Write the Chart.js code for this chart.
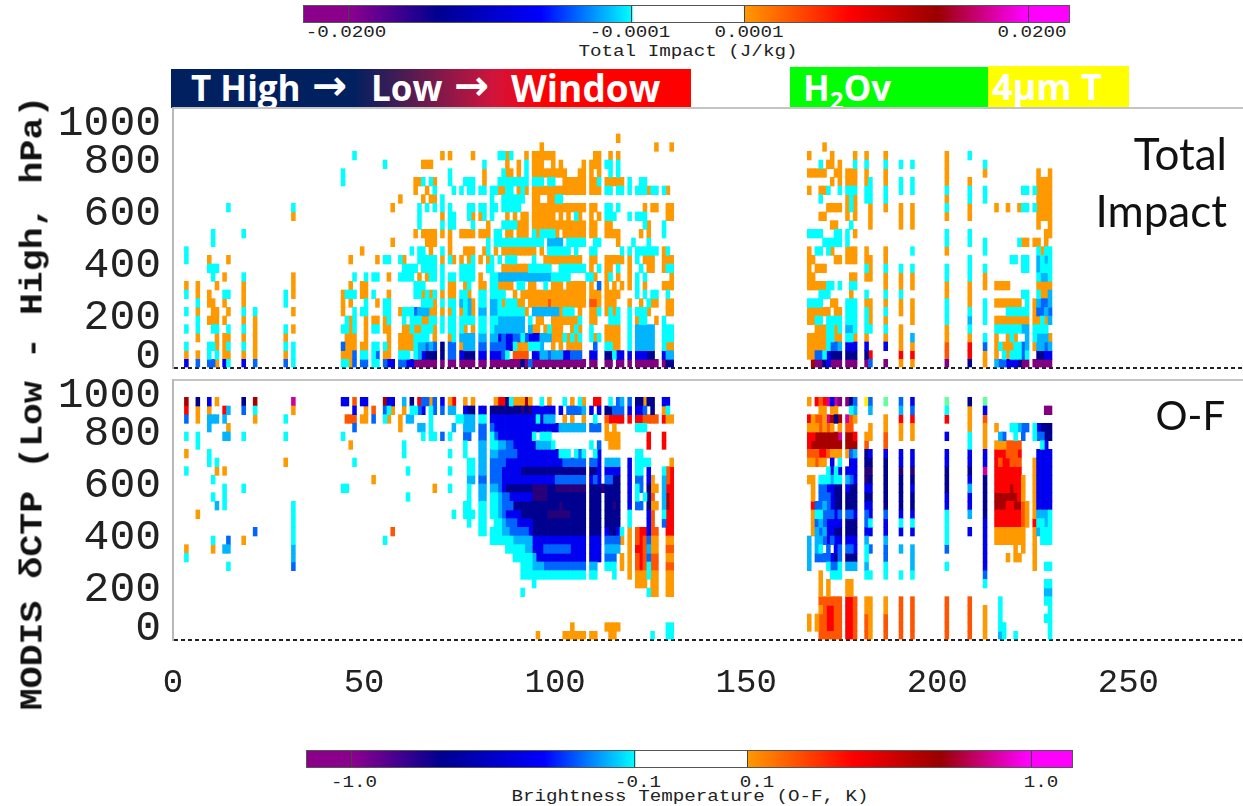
<!DOCTYPE html>
<html>
<head>
<meta charset="utf-8">
<title>Total Impact and O-F</title>
<script src="https://cdn.jsdelivr.net/npm/chart.js@4/dist/chart.umd.min.js"></script>
<style>
  html, body { margin: 0; background: #fff; width: 1243px; height: 806px; overflow: hidden; }
  .abs { position: absolute; white-space: nowrap; }
  canvas { position: absolute; left: 0; filter: blur(0.55px); }
  .bar { position: absolute; height: 16px; border: 1px solid #555; box-sizing: content-box;
    background: linear-gradient(90deg, #8b008b 0, #8b008b 5.7%, #8f008f 5.8%, #000090 17.5%, #0000ff 31%, #00ffff 42.9%, #fff 43%, #fff 57.5%, #ff9900 57.6%, #ff0000 71.3%, #990000 82.8%, #ff00ff 94.3%, #ff00ff 100%); }
  .tick { position: absolute; top: 0; width: 1px; height: 100%; background: #444; }
  .mono { font-family: "Liberation Mono", monospace; font-size: 16px; color: #222; transform: translateX(-50%) scaleX(1.2); }
  .banner { position: absolute; color: #fff; font-family: "Open Sans", sans-serif; font-weight: 700; font-size: 35px; line-height: 40px; white-space: nowrap; }
  .side { font-family: Lato, sans-serif; font-size: 44px; color: #111; text-align: right; }
  #ytitle { font-family: "Liberation Mono", monospace; font-weight: 700; font-size: 31px; color: #111;
    left: 33px; top: 403px; transform: translate(-50%, -50%) rotate(-90deg) scaleX(1.18); }
</style>
</head>
<body>
<div class="bar" style="left:303px;top:5px;width:765px">
  <div class="tick" style="left:44px"></div><div class="tick" style="left:327px"></div><div class="tick" style="left:440px"></div><div class="tick" style="left:724px"></div>
</div>
<div id="topLabels"></div>

<div class="abs" style="left:171px;top:69px;width:520px;height:39px;background:linear-gradient(90deg,#002060 0,#002060 35%,#d0143c 62%,#ff0000 72%,#ff0000 100%)"></div>
<div class="abs" style="left:790px;top:67px;width:198px;height:41px;background:#00ff00"></div>
<div class="abs" style="left:988px;top:66px;width:141px;height:41px;background:#ffff00"></div>
<div class="banner" style="left:191px;top:68px">T High</div>
<div class="banner" style="left:312px;top:66px;font-size:42px;font-family:'DejaVu Sans'">&#8594;</div>
<div class="banner" style="left:371px;top:68px">Low</div>
<div class="banner" style="left:454px;top:66px;font-size:42px;font-family:'DejaVu Sans'">&#8594;</div>
<div class="banner" style="left:511px;top:68px;font-size:37px">Window</div>
<div class="banner" style="left:803px;top:68px">H<sub style="font-size:24px;line-height:0">2</sub>Ov</div>
<div class="banner" style="left:992px;top:67px;font-size:36px">4&micro;m T</div>

<canvas id="impactChart" style="top:100px" width="1243" height="272"></canvas>
<canvas id="ofChart" style="top:372px" width="1243" height="328"></canvas>

<div class="abs side" style="right:16px;top:127px">Total</div>
<div class="abs side" style="right:16px;top:184px">Impact</div>
<div class="abs side" style="right:18px;top:391px;font-size:40px">O-F</div>
<div class="abs" id="ytitle">MODIS &delta;CTP (Low - High, hPa)</div>

<div class="bar" style="left:306px;top:750px;width:765px">
  <div class="tick" style="left:44px"></div><div class="tick" style="left:327px"></div><div class="tick" style="left:440px"></div><div class="tick" style="left:724px"></div>
</div>
<div id="bottomLabels"></div>

<script>
const xTicks = [0, 50, 100, 150, 200, 250];
const yTicks = [0, 200, 400, 600, 800, 1000];
const impactBarLabels = [["-0.0200", 346], ["-0.0001", 630], ["0.0001", 749], ["0.0200", 1032]];
const ofBarLabels = [["-1.0", 354], ["-0.1", 638], ["0.1", 757], ["1.0", 1041]];

const palette = {
  c: "#00ffff", s: "#00b4ff", l: "#0064ff", b: "#0000f0", n: "#000090", v: "#28007a", p: "#800080",
  o: "#ff9900", r: "#ff5500", R: "#ff0000", d: "#a80000", m: "#d0009a", y: "#ffee00", g: "#66ffa0"
};

// "channel row:codes" -> codes go upward from that row
const impactLeft = [
  "3 0:boc 4:c 6:c 8:co 12:cc",
  "6 0:lo 3:occocoo",
  "9 0:lcc 5:o 7:oo 11:co",
  "10 0:l 2:c 4:cooo 10:cc 14:cc",
  "11 0:ocoocoo 9:o 11:c",
  "13 0:booo 5:o 7:oc 10:o",
  "14 0:cococ 6:o 8:c 12:o 18:c",
  "18 0:bocococoooc 15:c",
  "21 0:loooooc",
  "29 0:lococ 7:cc",
  "31 0:ccc 4:o 6:o 8:ooo 17:oc",
  "44 0:col 4:c 6:ooo 21:cc",
  "45 0:cooo 4:cc 8:c",
  "46 0:oooooo 7:oco 12:o",
  "47 0:llooccc 8:c 10:c 24:c",
  "49 0:lco 6:c 8:oo 13:o",
  "50 0:lcooooccooc",
  "52 0:ccc 4:co 8:c 10:c",
  "53 0:clc 4:co 7:o 10:c 12:o",
  "55 0:loc 4:oocc 12:c 23:c",
  "56 0:booooccco 10:o 12:c",
  "57 0:b 14:o 18:o",
  "59 0:lcoo 6:o 10:c 12:c 19:o",
  "60 0:lcooocc 10:cco",
  "61 0:bcooo 6:c 10:cc",
  "62 0:b 2:ooccc 10:cc 13:c",
  "63 0:pcccocl 8:cc 11:c 15:o 20:oo",
  "64 0:psscocs 8:cco 12:cc 16:ccc 21:o",
  "65 0:pbsccoscoc 11:ccc 15:o 19:o 21:c 23:o",
  "66 0:pnlccoscc 10:occ 14:oo 18:c 20:o 23:o",
  "67 0:pns 4:ccoco 10:cccooo 19:o 21:c 23:o",
  "68 0:pnloocooc 10:ccc 14:oo 18:coco",
  "70 0:pnn 4:ccococccoc 15:ococc 24:o",
  "72 0:plloccocooc 12:coooccc 21:cc 24:o",
  "73 0:pllcccccooc 12:o 16:cc 20:c"
];

// dense block, one line per row from the bottom, "offset from channel 75:codes"
const impactMid = [
  "0:pppp 5:pp 8:pppppppp 16:npl 19:pppppppppppppp 34:pp 38:pp 41:pp 44:p 46:pppppp 53:pn 55:n",
  "0:bnnn 5:bb 8:bbbl 12:c 14:rrrr 19:bb 21:ss 23:l 24:sss 27:bb 29:lll 34:bb 38:nn 40:c 41:bb 44:b 46:bbb 49:nn 53:b 54:ss",
  "0:osss 5:ll 8:llll 12:bb 14:c 15:ooo 18:cccs 24:o 26:o 28:oooo 35:l 38:cc 40:oo 44:c 46:sssss 53:c 54:oo",
  "0:ssss 5:ss 8:ss 10:bl 12:bb 14:ll 16:c 17:l 18:bbb 21:sss 24:ooo 27:c 28:o 29:c 30:o 31:c 34:c 35:o 36:c 38:oooo 44:c 46:sssss 53:c 54:cc",
  "0:co 3:o 5:cc 8:c 9:ssssssss 18:s 19:oo 22:o 23:c 24:ooo 29:o 30:c 31:o 34:c 38:oooo 44:c 46:sssss 53:c 54:cc",
  "0:cccc 5:cc 8:cc 10:sssssss 18:c 20:oo 24:ooooooo 31:c 34:oo 39:ccc 44:c 46:o 47:cc 51:o 53:c",
  "0:ocso 5:ss 8:ss 10:ccccccc 17:o 19:sssssss 26:o 27:ccc 31:o 34:oo 36:c 38:o 39:c 40:o 41:c 44:c 46:ccc 49:o 54:oo",
  "0:scso 5:cc 8:ss 10:co 12:ccc 15:oo 18:ooooo 23:r 24:ooooooooo 34:rr 36:o 38:ooo 44:o 47:o 49:c 50:oo 54:oo",
  "0:cco 5:cc 8:cccc 14:o 16:ooooooooooooooooo 34:ooo 38:oooo 46:c 48:c 50:cc 54:c",
  "1:o 2:c 5:oo 8:cc 10:oooo 15:cc 18:oo 22:c 24:ooo 28:ooooo 34:o 36:l 38:o 40:o 42:o 44:o 46:c 48:o 53:ooo",
  "0:cccc 5:o 8:cc 10:ssssssssssssss 24:ccccc 33:c 34:c 35:o 38:o 39:c 41:o 44:o 46:c 48:c 55:o",
  "0:cccc 7:cc 11:ooooooo 18:cccccc 26:ccccccc 34:o 36:c 38:oo 41:c 44:o 47:c 49:oo 53:o 54:cc",
  "0:o 2:oc 5:o 7:oc 10:c 12:ccc 19:c 22:oooooooooo 34:oo 38:ooooo 44:o 46:c 48:ooo 53:ooo",
  "1:ooo 6:oc 9:o 11:ooooooooo 21:o 23:cccccc 30:c 34:cc 42:c 44:c 46:cccccc 53:oc",
  "7:c 9:ccccccccccccc 23:ssss 28:ccccc 35:cc 41:o 45:c 49:c",
  "0:oooo 5:ooo 9:cc 12:oo 15:ooo 19:co 21:cccc 25:o 27:oooooo 34:oo 38:oooo 47:o 49:o 53:c",
  "3:c 7:o 11:cccc 15:ooo 19:oooooooooooooo 34:oo 38:oo 48:c 49:o 53:c",
  "2:co 5:oc 8:c 12:o 14:o 16:oo 19:oooooo 26:o 28:o 30:c 31:o 34:o 36:o 38:ccc 44:c 46:c 47:cc 54:oo",
  "2:cc 5:cc 8:cc 11:ccccc 19:oooooooooooooo 34:oo 38:cc 41:c 48:o 50:oo 54:oo",
  "8:c 11:cccccc 19:oo 23:oo 25:cc",
  "0:c 2:cc 5:cc 8:cc 10:oo 12:cc 15:oco 19:oooooooooooooo 34:ooo 38:cc 41:cc 44:c 46:ccc 49:o 50:cc 53:co",
  "1:ccc 6:o 10:cccccccc 19:ccc 23:cc 27:oooooo 34:oo 36:c 38:ooooo 44:c 47:cc",
  "6:o 11:coo 15:o 17:c 19:ooooooooo 31:oo 34:o 36:o 39:c 41:c",
  "6:c 12:o 15:o 17:c 19:ooo 24:o 26:o 32:o 34:ooo 38:cc 41:c",
  "3:o 10:cco 13:c 17:o 19:oooooo 35:oo 39:o 41:o",
  "21:o 51:o 55:o",
  "41:o"
];

const impactRight = [
  "166 1:ooo 5:ooc 9:ooooo 15:c 20:o 22:o 24:o",
  "167 0:dooo 5:ooc 9:oo 12:o 15:c 22:o",
  "168 0:plooococ 9:o 11:o 13:c 15:c 22:o",
  "169 0:plooococco 11:o 13:c 15:c 17:o 19:co 22:oc",
  "170 0:ncooo 6:o 8:co 11:o 14:c 17:o 20:o 22:o 25:o",
  "171 0:bbcccc 6:o 8:cc 13:cc 18:o 20:c 23:o",
  "172 0:pnlccc 7:o 9:c 13:oc 16:o 18:o 21:o 23:oo",
  "173 0:pnloocoo 12:o 14:cco 18:o 22:o",
  "174 0:pnsocco 9:c 12:o 14:cc 18:o 20:cooo",
  "176 0:pnbcsccc 12:oo 14:cc 17:ooo 20:coo",
  "177 0:pnbcscccoco 12:oo 16:c 18:cc 20:coo",
  "178 0:pnbocccc 9:co 12:oo 15:o 17:ooo 20:cooco",
  "181 0:pnbocccoc 10:ocoo 19:ccooco",
  "182 0:lR 4:cooo 10:ooo 16:ooo 19:ccc",
  "186 0:p 2:bocococoocoo 18:occooco",
  "190 0:oRooo 6:oocooc 16:ooo 20:cc 23:c",
  "193 0:oRos 5:ooo 9:ooc 13:c 16:ooo 20:cc 23:c",
  "202 0:prroocccoocc 13:occ 17:ococoooo",
  "208 0:nRRocscooocc 12:c 14:cc 17:oocco 24:c",
  "212 0:oolc 5:ccc 9:ooc 13:cc 19:cc 22:oc",
  "215 0:soooco 7:o 9:o 18:o",
  "216 0:l 2:c 4:co 7:o 9:o",
  "217 0:lco 4:co 7:o 9:o",
  "218 0:booococo 9:o 18:o",
  "219 0:bcoccoco 12:c",
  "220 0:bccococo 12:c",
  "221 0:ncc 4:coco 14:c 18:o",
  "222 0:pll 4:soc 8:c 11:cc 14:o 18:c 20:c",
  "223 0:pcsssoccc 11:cc 14:o 18:c 20:c",
  "225 0:p 2:occooo 14:o 18:c 20:c",
  "226 0:pnsscolscocssco 16:ooooooo",
  "227 0:pnssccllooscco 17:ooooo",
  "228 0:pblscosloosc 12:scoo 17:ooooo",
  "229 0:pbso 5:slssocccc 15:oooooooo"
];

const ofLeft = [
  "3 9:co 19:c 21:o 23:c 25:lRd",
  "6 14:o 22:cc 25:oon",
  "9 20:cc 24:ss 26:ob",
  "10 10:oc 16:c 18:c 25:s",
  "11 15:s 19:oc 25:s 27:o",
  "13 10:s 15:ccc 19:o 23:s 25:sR",
  "14 8:c 10:sl 23:so 26:s",
  "18 11:o 17:c 23:c 26:ln",
  "21 12:l 25:ocd",
  "29 20:o 23:c 25:c",
  "31 8:lss 11:ccccc 26:om",
  "44 17:c 23:c 27:b",
  "45 17:c 25:r 27:b",
  "46 22:o 25:r",
  "47 20:c 24:lrbr",
  "49 25:o 27:b",
  "50 25:oob",
  "52 18:o 25:lr",
  "55 11:c 25:cld",
  "56 25:ocb",
  "57 12:r 26:ob",
  "59 24:oo",
  "60 21:cc 26:os",
  "61 16:c 19:c 25:s",
  "62 25:scn",
  "63 26:c",
  "64 24:s 26:lR",
  "65 23:cs 26:bl",
  "66 27:l",
  "67 23:cccco",
  "68 17:o 23:c 26:ll",
  "70 23:l 26:lb",
  "72 17:c 19:c 21:c 23:c 26:so",
  "73 14:c 24:s 26:sR",
  "74 25:c"
];

const ofMid = [
  "20:o 27:oooooo 34:oo 39:oo 50:c 54:cc",
  "29:o 38:oooo 54:cc",
  "", "", "",
  "16:c 49:c 50:oo 54:oo",
  "19:c 46:ooo 50:oo 54:oo",
  "16:ccc 19:cccccccccccccc 34:cc 40:c 44:o 46:ooo 49:c 50:oo 54:oo",
  "16:ccc 19:sss 22:lllllllllll 34:ss 38:ccc 42:o 44:o 46:rRr 49:c 50:rr 54:rr",
  "14:ccccc 19:s 20:bbbbbbbbbbbbb 34:bbb 38:lll 42:o 44:o 46:rRr 49:l 50:rr 54:oo",
  "12:ccccc 17:ss 19:bbb 22:lllllll 29:bbbb 34:bbb 38:ssss 44:o 46:RRr 49:s 50:oo 54:rr",
  "8:cccccc 14:sssss 19:bbbbbbbbbbbbbb 34:bbb 38:llll 42:o 44:o 46:rRr 49:l 50:oo 54:oo",
  "5:cc 8:ccc 11:ss 13:lllll 18:b 19:nnnnnnnnnnnnnn 34:nnn 38:bnnb 42:c 44:o 46:rRR 49:b 50:rr 54:RR",
  "2:c 5:cc 9:cc 11:s 12:lll 15:bbbb 19:nnnnnnnnnnnnnn 34:nnn 38:nnnn 44:c 49:b 50:r 53:l 54:RR",
  "1:ccc 5:cc 8:cc 10:s 11:l 12:bbbb 16:nnn 19:nnnn 23:vvvvvv 29:nnnn 34:nnn 38:nnnn 44:c 49:b 50:r 53:c 54:RR",
  "1:cc 5:cc 8:ccs 11:lll 14:nnnnn 19:nnnnnnn 26:v 27:nnnnnn 34:nnn 38:nnvn 44:b 46:ll 49:n 50:oo 53:s 54:dR",
  "2:c 5:ss 8:cc 10:s 11:ll 13:bbbbbb 19:vvvv 23:nnnnnnnnnn 34:nnn 38:nnnn 44:b 46:c 48:c 49:n 50:r 53:s 54:dR",
  "2:c 5:ss 8:ss 10:l 11:b 12:nnnnnnn 19:vvvv 23:nn 25:vvvvv 30:vvv 34:nnn 37:v 38:nnnn 44:b 46:cl 49:n 50:oo 53:s 54:RR",
  "2:ss 5:ll 8:lll 11:bbbbbbbbbb 21:bbbb 25:llllllll 34:blb 38:llnn 44:b 46:ll 49:b 50:o 53:s 54:rR",
  "2:cc 5:ss 8:lll 11:bbbbb 16:nnn 19:nnnnnnnnnnnnnn 34:nnb 38:bbbb 44:b 46:cc 49:b 53:c 54:rR",
  "2:cc 5:ss 8:llll 12:bbbbbbb 19:bbbbbbbb 27:llllll 34:llb 38:ssss 44:b 46:ccc 49:c 55:o",
  "1:c 5:ss 8:ss 10:lllll 15:bbbb 19:bbbbbbb 26:ccc 30:cl 32:c 35:cb 46:cc",
  "1:c 5:ss 8:cc 10:ssll 14:bbbbbb 20:ss 22:ss 24:c 34:c 36:l 39:ooo 49:R 53:R",
  "1:ll 5:ll 8:cl 10:bbbbbbbbb 19:c 21:ccc 38:oooo 49:R 53:R",
  "1:sss 5:ll 8:lb 10:bbbbbbbbbbbbbbb 25:b 26:sssssss 34:lll 38:o 40:o 46:ccc",
  "0:csss 5:cc 8:bbbbbbbbbbb 19:b 20:c 21:bss 24:s 27:o 29:o 32:o 35:c 38:rRRRR 44:R 46:RR 48:rrrr 53:Roo",
  "1:bnn 5:bb 8:nnnnnnnn 16:vnv 19:bbbbbb 26:b 28:llll 32:s 34:b 36:b 38:nnll 42:l 44:b 46:bbl 50:n 53:oc",
  "1:o 3:o 9:oRR 12:nc 14:ooodo 21:c 23:o 27:c 29:o 31:co 35:RR 39:c 41:ls 44:l 46:nn 48:o 49:nn 53:bb"
];

const ofRight = [
  "166 1:oo 8:ssss 18:o 20:orRRoR 27:o",
  "167 12:oooRoo 18:o 20:ordRoo",
  "168 1:oo 9:lssslcl 20:rrddor 27:R",
  "169 0:rrrorooo 9:lcslsclllc 20:oRddrr 26:or",
  "170 0:rrrrr 9:l 11:lsllsllc 20:oRddoooR",
  "171 0:rRRRroo 8:cllbbblllbcc 21:rddrm 27:m",
  "172 0:rRRRr 7:clb 11:lbblbbbsbb 21:oddodob",
  "173 0:rrrrr 7:clnbbnbbnnncc 21:odd 25:nom",
  "174 0:rrrrr 7:ccllbnblnnncbc 21:odmod 27:p",
  "176 0:RRRRRoo 8:snlbnnlnnbsb 21:oddrm 27:p",
  "177 0:RRRRRoo 8:snlbnnlnnnlbbl 22:ddrrcn",
  "178 0:rrrrr 8:snbbnnbnnnbbbs 22:dR 25:osl",
  "181 0:rrroo 7:csccsbllbnbvvnnro 27:y",
  "182 0:ooooo 7:c 10:l 12:bcbbnbnvnb 23:oo 26:sl",
  "186 0:rrroo 7:ccllsbblnnnnnnbrroo 27:g",
  "190 0:rrrrr 7:c 10:s 12:bcbnnnnvbb 23:ooRsl",
  "193 0:rrrrr 7:csss 12:bcbnnbnvbb 23:ooRlb",
  "202 0:rrrrr 8:c 10:lccccbbnnnbb 23:b 25:Rcg",
  "208 0:rrrrr 12:b 14:sbbsbnbbccooon",
  "212 0:oooo 6:clbbbbbbnnnnnmbbooorbg",
  "215 11:ooRRddRRRRRo 24:o",
  "216 0:scccc 11:ooRRddRRRrRo 23:s",
  "217 0:cc 11:ooRRddRRRRRo 23:l",
  "218 9:o 11:ooRRRdRRRRrr",
  "219 11:ooRRRddRRrrr 24:c",
  "220 0:c 9:ooooRRddRRRrrrcc",
  "221 9:o 11:ooRRdRRRRrRr 24:s",
  "222 10:ooorrrooo 23:ll",
  "223 13:ooo 24:l",
  "225 8:oooooRooooooo 23:cc",
  "226 12:scsbbbbbbb 23:lb",
  "227 11:cccsbbbbbbbcln",
  "228 2:c 4:csc 8:c 11:ccssbbbbbbbbnn 26:p",
  "229 0:cccccsc 8:c 11:ccccbbbbbbb 23:nn 26:p"
];

const rowStep = 1000 / 30;
const impactCells = [];
const ofCells = [];

function addRun(target, ch, row, codes, dx, dy) {
  [...codes].forEach((code, i) => {
    if (palette[code]) target.push({ code, ch: ch + i * dx, row: row + i * dy });
  });
}

function readColumns(target, lines) {
  lines.forEach((line) => {
    const parts = line.split(" ");
    const ch = Number(parts[0]);
    parts.slice(1).forEach((tok) => {
      const [row, codes] = tok.split(":");
      addRun(target, ch, Number(row), codes, 0, 1);
    });
  });
}

function readRows(target, lines, base) {
  lines.forEach((line, row) => {
    line.split(" ").filter(Boolean).forEach((tok) => {
      const [off, codes] = tok.split(":");
      addRun(target, base + Number(off), row, codes, 1, 0);
    });
  });
}

readColumns(impactCells, impactLeft);
readRows(impactCells, impactMid, 75);
readColumns(impactCells, impactRight);
readColumns(ofCells, ofLeft);
readRows(ofCells, ofMid, 75);
readColumns(ofCells, ofRight);

function cellDatasets(cells) {
  return Object.keys(palette).map((code) => ({
    label: code,
    backgroundColor: palette[code],
    borderWidth: 0,
    barThickness: 3.9,
    grouped: false,
    data: cells.filter((c) => c.code === code).map((c) => ({
      x: c.ch + 0.5,
      y: [c.row * rowStep, (c.row + 1) * rowStep]
    }))
  }));
}

// 0 and 1000 sit inside the panel in the original, so these labels are pushed in
const yLabelsPlugin = {
  id: "yLabels",
  afterDraw(chart) {
    const { ctx, scales } = chart;
    ctx.save();
    ctx.font = '43px "Liberation Mono", monospace';
    ctx.fillStyle = "#222";
    ctx.textAlign = "right";
    ctx.textBaseline = "middle";
    yTicks.forEach((v) => {
      let py = scales.y.getPixelForValue(v) + 2;
      if (v === 0) py -= 13;
      if (v === 1000) py += 14;
      ctx.fillText(String(v), 161, py);
    });
    ctx.restore();
  }
};

function makePanel(id, cells, withXLabels, xHeight) {
  return new Chart(document.getElementById(id), {
    type: "bar",
    data: { datasets: cellDatasets(cells) },
    plugins: [yLabelsPlugin],
    options: {
      responsive: false,
      animation: false,
      layout: { padding: { top: 8 } },
      plugins: { legend: { display: false }, tooltip: { enabled: false } },
      scales: {
        x: {
          type: "linear",
          offset: false,
          min: 0,
          max: 280,
          afterFit: (s) => { s.height = xHeight; },
          afterBuildTicks: (s) => { s.ticks = xTicks.map((v) => ({ value: v })); },
          grid: { display: false },
          border: { display: false },
          ticks: {
            display: withXLabels,
            autoSkip: false,
            maxRotation: 0,
            padding: 15,
            color: "#222",
            font: { family: '"Liberation Mono", monospace', size: 34 }
          }
        },
        y: {
          min: 0,
          max: 1000,
          afterFit: (s) => { s.width = 173; },
          afterBuildTicks: (s) => { s.ticks = yTicks.map((v) => ({ value: v })); },
          grid: {
            drawTicks: false,
            lineWidth: 2,
            color: (c) => (c.tick && c.tick.value === 1000 ? "#c4c4c4" : c.tick && c.tick.value === 0 ? "#222" : "rgba(0,0,0,0)")
          },
          border: {
            color: "#b8b8b8",
            width: 2,
            dash: (c) => (c.tick && c.tick.value === 0 ? [4, 3] : [])
          },
          ticks: { display: false }
        }
      }
    }
  });
}

makePanel("impactChart", impactCells, false, 4);
makePanel("ofChart", ofCells, true, 60);

function barText(holder, labels, labelTop, title, titleLeft, titleTop) {
  const el = document.getElementById(holder);
  labels.forEach(([text, left]) => {
    const d = document.createElement("div");
    d.className = "abs mono";
    d.style.left = left + "px";
    d.style.top = labelTop + "px";
    d.textContent = text;
    el.appendChild(d);
  });
  const t = document.createElement("div");
  t.className = "abs mono";
  t.style.left = titleLeft + "px";
  t.style.top = titleTop + "px";
  t.textContent = title;
  el.appendChild(t);
}

barText("topLabels", impactBarLabels, 24, "Total Impact (J/kg)", 688, 43);
barText("bottomLabels", ofBarLabels, 774, "Brightness Temperature (O-F, K)", 690, 788);
</script>
</body>
</html>
